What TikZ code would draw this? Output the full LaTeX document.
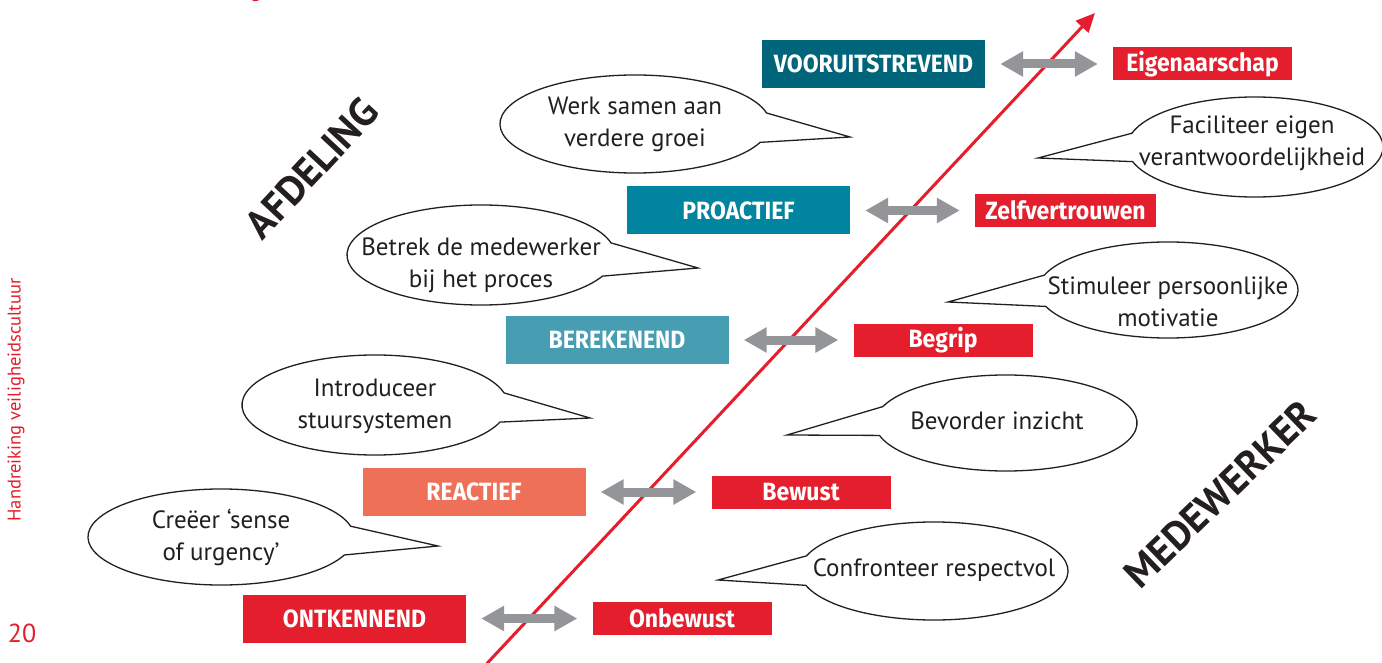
\documentclass[tikz,border=0pt]{standalone}
\usepackage{fontspec}
\setmainfont{PT Sans}
\newfontfamily\boxfont[FakeStretch=0.92]{Fira Sans}
\usetikzlibrary{arrows.meta}
\definecolor{cred}{RGB}{228,30,44}
\definecolor{tealA}{RGB}{0,101,122}
\definecolor{tealB}{RGB}{0,132,159}
\definecolor{tealC}{RGB}{71,157,177}
\definecolor{salmon}{RGB}{238,112,89}
\definecolor{agray}{RGB}{147,149,152}
\definecolor{ink}{RGB}{35,31,32}
\newcommand\bubble[8]{\draw[bubbleline] (#1,#2) ++(#5:#3 and #4) arc[start angle=#5, end angle=#6, x radius=#3, y radius=#4] -- (#7,#8) -- cycle;}
\tikzset{
  lbox/.style={minimum width=223pt, minimum height=48pt, inner sep=0pt, text=white, font=\boxfont\bfseries\fontsize{25}{25}\selectfont},
  rbox/.style={fill=cred, minimum width=179pt, minimum height=33pt, inner sep=0pt, text=white, font=\boxfont\bfseries\fontsize{25}{25}\selectfont},
  dbl/.style={draw=agray, line width=9pt, {Triangle[width=24pt,length=23pt]}-{Triangle[width=24pt,length=23pt]}, shorten <=15pt, shorten >=15pt},
  bubbleline/.style={draw=ink, line width=1.3pt, fill=white},
  btext/.style={text=ink, align=center, font=\fontsize{25}{32}\selectfont, inner sep=0pt},
  bigword/.style={text=ink, font=\bfseries\fontsize{40}{40}\selectfont, inner sep=0pt},
}
\begin{document}
\begin{tikzpicture}[x=1pt, y=-1pt]
\clip (0,0) rectangle (1382,663);
\useasboundingbox (0,0) rectangle (1382,663);
\fill[white] (0,0) rectangle (1382,663);

% margin texts
\node[text=cred, font=\fontsize{20}{20}\selectfont, anchor=base] (topg) at (256,-2) {g};
\node[rotate=90, text=cred, font=\fontsize{18.5}{18.5}\selectfont, inner sep=0pt] (side) at (16,400) {Handreiking veiligheidscultuur};
\node[text=cred, font=\fontsize{26}{26}\selectfont, inner sep=0pt] (page) at (22,633) {20};

% bubbles
\bubble{635}{124}{135}{49}{22}{347}{850}{137}
\bubble{1255}{147}{128}{50}{196}{523}{1038}{158}
\bubble{481}{255}{134}{50}{25}{346}{698}{268}
\bubble{1168}{290}{130}{48}{198}{520}{948}{302}
\bubble{375}{405}{133}{50}{20}{346}{590}{418}
\bubble{1006}{423}{131}{48}{200}{525}{787}{435}
\bubble{221}{537}{133}{48}{22}{347}{438}{546}
\bubble{934}{571}{134}{49}{198}{523}{718}{580}

\node[btext] (t1) at (635,124) {Werk samen aan\\verdere groei};
\node[btext] (t2) at (1252,143) {Faciliteer eigen\\verantwoordelijkheid};
\node[btext] (t3) at (481,265) {Betrek de medewerker\\bij het proces};
\node[btext] (t4) at (1168,302) {Stimuleer persoonlijke\\motivatie};
\node[btext] (t5) at (375,406) {Introduceer\\stuursystemen};
\node[btext] (t6) at (997,421) {Bevorder inzicht};
\node[btext] (t7) at (221,537) {Creëer ‘sense\\of urgency’};
\node[btext] (t8) at (934,570) {Confronteer respectvol};

% red diagonal
\coordinate (lb) at (479,672);
\coordinate (lt) at (1095,13);
\draw[cred, line width=3pt, -{Triangle[width=17pt,length=19pt]}] (lb) -- (lt);

% boxes
\node[lbox, fill=tealA] (v) at (873.5,64) {VOORUITSTREVEND};
\node[rbox] (e) at (1202.5,64) {Eigenaarschap};
\node[lbox, fill=tealB] (p) at (738.5,210.5) {PROACTIEF};
\node[rbox, minimum width=181pt] (z) at (1065.5,210.5) {Zelfvertrouwen};
\node[lbox, fill=tealC] (b) at (617,340) {BEREKENEND};
\node[rbox] (bg) at (943,340) {Begrip};
\node[lbox, fill=salmon] (r) at (474,492) {REACTIEF};
\node[rbox] (bw) at (801,492) {Bewust};
\node[lbox, fill=cred] (o) at (354.5,618.5) {ONTKENNEND};
\node[rbox] (ob) at (682,618.5) {Onbewust};

\draw[dbl] (v.east) -- (e.west);
\draw[dbl] (p.east) -- (z.west);
\draw[dbl] (b.east) -- (bg.west);
\draw[dbl] (r.east) -- (bw.west);
\draw[dbl] (o.east) -- (ob.west);

% big words
\node[bigword, rotate=47] (afd) at (312,168) {AFDELING};
\node[bigword, rotate=44] (med) at (1220,494) {MEDEWERKER};
\end{tikzpicture}
\end{document}
